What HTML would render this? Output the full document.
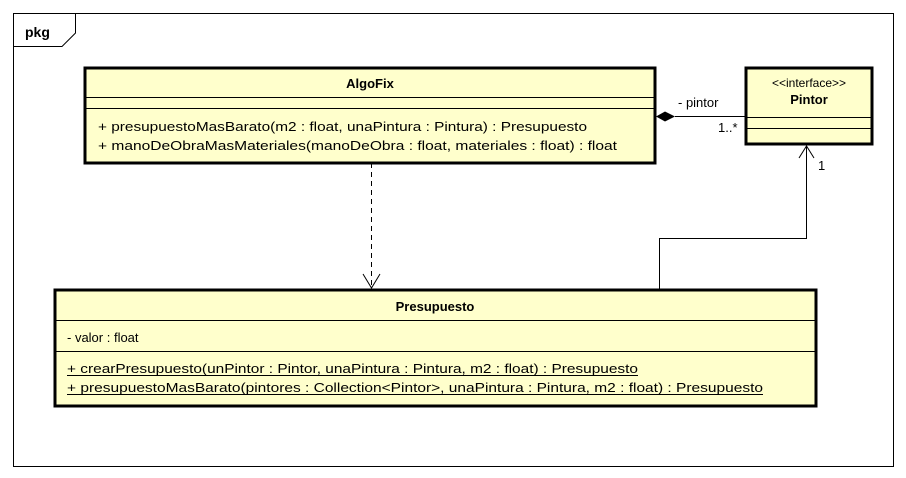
<!DOCTYPE html>
<html><head><meta charset="utf-8"><style>body{margin:0;background:#fff}svg{display:block}</style></head><body>
<svg width="906" height="478" xmlns="http://www.w3.org/2000/svg" font-family="Liberation Sans, sans-serif" font-size="13">
<rect width="906" height="478" fill="#fff"/>
<rect x="13.5" y="13.5" width="880" height="453" fill="#fff" stroke="#000"/>
<path d="M13.5 46.5 H62 L75.5 33 V13.5" fill="none" stroke="#000"/>
<text x="25" y="37" font-weight="bold" font-size="14">pkg</text>

<!-- AlgoFix -->
<rect x="85" y="68" width="570" height="95" fill="#ffffcc" stroke="#000" stroke-width="3"/>
<line x1="85" y1="97.5" x2="655" y2="97.5" stroke="#000"/>
<line x1="85" y1="108.5" x2="655" y2="108.5" stroke="#000"/>
<text x="370" y="88" font-weight="bold" text-anchor="middle">AlgoFix</text>
<text x="98" y="131" textLength="489" lengthAdjust="spacingAndGlyphs">+ presupuestoMasBarato(m2 : float, unaPintura : Pintura) : Presupuesto</text>
<text x="98" y="150" textLength="519" lengthAdjust="spacingAndGlyphs">+ manoDeObraMasMateriales(manoDeObra : float, materiales : float) : float</text>

<!-- Pintor -->
<rect x="746" y="68" width="126" height="76" fill="#ffffcc" stroke="#000" stroke-width="3"/>
<line x1="746" y1="117.5" x2="872" y2="117.5" stroke="#000"/>
<line x1="746" y1="128.5" x2="872" y2="128.5" stroke="#000"/>
<text x="809" y="87" text-anchor="middle" font-size="12">&lt;&lt;interface&gt;&gt;</text>
<text x="809" y="104" text-anchor="middle" font-weight="bold">Pintor</text>

<!-- composition -->
<line x1="675" y1="116.5" x2="746" y2="116.5" stroke="#000"/>
<polygon points="656,116.5 665,111.5 675,116.5 665,121.5" fill="#000"/>
<text x="678" y="107">- pintor</text>
<text x="718" y="132">1..*</text>

<!-- dependency -->
<line x1="371.5" y1="163" x2="371.5" y2="287" stroke="#000" stroke-dasharray="5,4"/>
<polyline points="363,274 371.5,288 380,274" fill="none" stroke="#000"/>

<!-- association -->
<polyline points="659.5,289 659.5,238.5 806.5,238.5 806.5,146" fill="none" stroke="#000"/>
<polyline points="799,158 806.5,146 814,158" fill="none" stroke="#000"/>
<text x="818" y="170">1</text>

<!-- Presupuesto -->
<rect x="55" y="290" width="761" height="116" fill="#ffffcc" stroke="#000" stroke-width="3"/>
<line x1="55" y1="320.5" x2="816" y2="320.5" stroke="#000"/>
<line x1="55" y1="351.5" x2="816" y2="351.5" stroke="#000"/>
<text x="435" y="311" font-weight="bold" text-anchor="middle">Presupuesto</text>
<text x="67" y="342">- valor : float</text>
<text x="67" y="373" textLength="571" lengthAdjust="spacingAndGlyphs">+ crearPresupuesto(unPintor : Pintor, unaPintura : Pintura, m2 : float) : Presupuesto</text>
<line x1="67" y1="375.5" x2="638" y2="375.5" stroke="#000"/>
<text x="67" y="392" textLength="696" lengthAdjust="spacingAndGlyphs">+ presupuestoMasBarato(pintores : Collection&lt;Pintor&gt;, unaPintura : Pintura, m2 : float) : Presupuesto</text>
<line x1="67" y1="394.5" x2="763" y2="394.5" stroke="#000"/>
</svg>
</body></html>
